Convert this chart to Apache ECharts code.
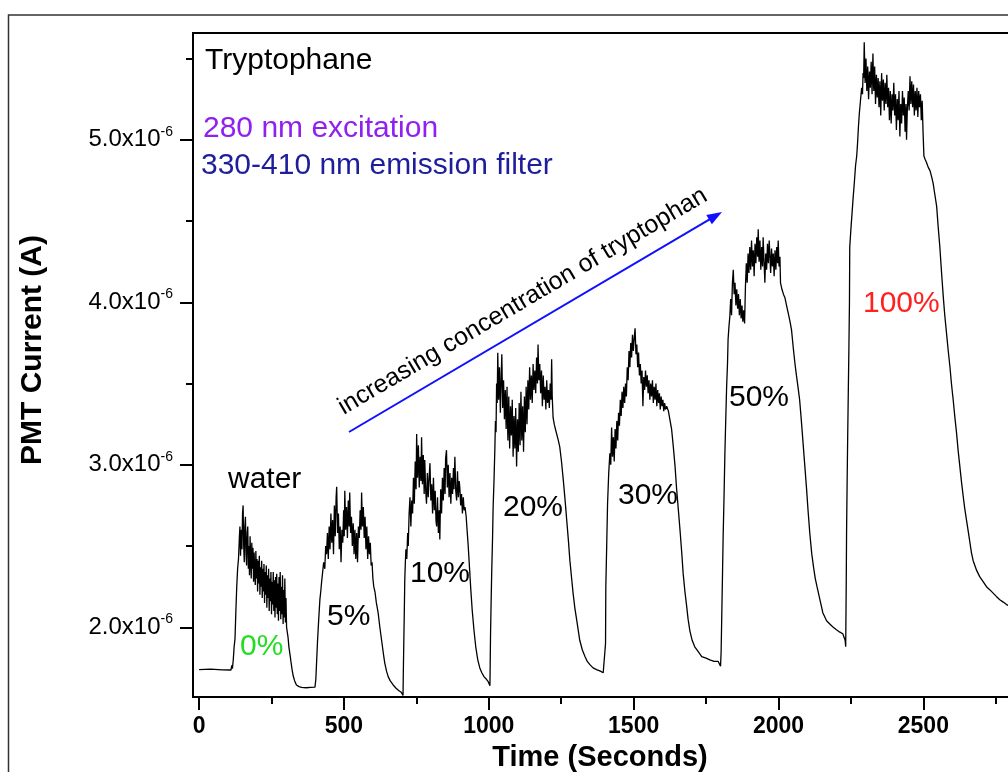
<!DOCTYPE html>
<html><head><meta charset="utf-8">
<script src="https://cdn.jsdelivr.net/npm/echarts@6/dist/echarts.min.js"></script>
<style>html,body{margin:0;padding:0;background:#fff}#c{width:1008px;height:772px}</style>
</head><body><div id="c"></div>
<script>
// ---- data: [time (s), PMT current (x1e-6 A)] ----
const segBaseline = [[0,1.74],[40,1.742],[80,1.738],[110,1.737],[112,1.73],[113,1.765],[115,1.745],[118,1.80],[121,1.88],[124,1.93],[127,2.10],[130,2.25],[133,2.36],[136,2.42],[139,2.55],[141,2.62]];
const segWater = [[143,2.44],[146,2.60],[148,2.48],[150,2.70],[152,2.75],[154,2.50],[156,2.40],[158,2.62],[160,2.68],[162,2.45],[164,2.38],[166,2.58],[168,2.62],[170,2.36],[172,2.50],[174,2.32],[176,2.56],[178,2.42],[180,2.30],[182,2.52],[184,2.36],[186,2.49],[188,2.28],[190,2.46],[192,2.33],[194,2.26],[196,2.47],[198,2.30],[200,2.42],[202,2.22],[204,2.41],[206,2.27],[208,2.44],[210,2.20],[212,2.37],[214,2.25],[216,2.41],[218,2.18],[220,2.36],[222,2.22],[224,2.39],[226,2.15],[228,2.34],[230,2.20],[232,2.38],[234,2.12],[236,2.32],[238,2.18],[240,2.36],[242,2.10],[244,2.30],[246,2.16],[248,2.34],[250,2.08],[252,2.28],[254,2.14],[256,2.34],[258,2.10],[260,2.29],[262,2.06],[264,2.31],[266,2.12],[268,2.33],[270,2.08],[272,2.27],[274,2.04],[276,2.31],[278,2.10],[280,2.34],[282,2.05],[284,2.25],[286,2.08],[288,2.32],[290,2.02],[292,2.23],[294,2.06],[296,2.30],[298,2.03],[300,2.18],[302,2.00],
 [304,2.0],[307,1.94],[310,1.88],[314,1.83],[317,1.79],[321,1.74],[325,1.70],[330,1.67],[336,1.645],[345,1.635],[354,1.63],[370,1.628],[385,1.63],[400,1.632]];
const seg5 = [[403,1.68],[406,1.80],[409,1.92],[413,2.05],[417,2.17],[420,2.22],[423,2.28],[426,2.33],[430,2.40],[434,2.36],[437,2.50],[440,2.45],
 [443,2.58],[446,2.42],[449,2.62],[452,2.48],[455,2.70],[458,2.52],[461,2.66],[464,2.45],[467,2.75],[470,2.56],[473,2.80],[475,2.865],[478,2.58],[481,2.70],[484,2.48],[487,2.62],[490,2.40],[493,2.60],[496,2.52],[499,2.72],[501,2.56],[503,2.84],[506,2.60],[509,2.74],[512,2.55],[515,2.78],[518,2.62],[520,2.83],[523,2.58],[526,2.68],[529,2.50],[532,2.64],[535,2.45],[538,2.60],[541,2.42],[544,2.58],[547,2.40],[550,2.62],[553,2.55],[556,2.72],[559,2.60],[561,2.83],[564,2.62],[567,2.74],[570,2.55],[573,2.68],[576,2.48],[579,2.62],[582,2.42],[585,2.56],[588,2.45],[591,2.52],[594,2.38],[597,2.40],[600,2.30],
 [603,2.25],[607,2.22],[612,2.15],[618,2.09],[624,2.00],[630,1.92],[636,1.84],[641,1.78],[647,1.73],[653,1.695],[660,1.67],[670,1.645],[680,1.625],[690,1.61],[698,1.60],[702,1.595],[704,1.58]];
const seg10 = [[705,1.72],[707,1.95],[708,2.05],[710,2.29],[712,2.40],[714,2.48],[717,2.42],[720,2.58],[722,2.50],[725,2.70],[728,2.80],
 [731,2.62],[734,2.78],[737,2.70],[740,2.92],[743,2.76],[746,3.02],[749,2.85],[751,3.19],[754,2.92],[757,3.12],[760,2.86],[763,3.05],[766,2.90],[768,3.17],[771,2.88],[774,3.06],[777,2.82],[779,3.03],[782,2.85],[785,2.76],[788,2.95],[791,2.80],[794,2.92],[797,3.01],[800,2.78],[803,2.88],[806,2.70],[809,2.92],[812,2.72],[815,2.84],[818,2.65],[820,2.62],[823,2.80],[826,2.58],[829,2.72],[831,2.54],[834,2.85],[837,2.70],[840,2.92],[843,2.78],[846,2.98],[849,2.82],[851,3.04],[854,3.09],[857,2.86],[860,3.00],[863,2.80],[866,2.95],[869,2.76],[872,2.92],[875,2.82],[878,2.98],[880,2.85],[883,3.05],[886,2.84],[889,2.78],[892,2.96],[895,2.80],[898,2.90],[900,2.86],[903,2.75],[906,2.82],[909,2.70],[912,2.80],[915,2.72],[918,2.74],
 [922,2.68],[925,2.60],[929,2.50],[933,2.38],[938,2.23],[943,2.10],[949,1.98],[955,1.88],[962,1.80],[969,1.75],[976,1.72],[984,1.695],[992,1.68],[998,1.665],[1002,1.655],[1004,1.64]];
const seg20 = [[1006,1.95],[1008,2.15],[1010,2.33],[1013,2.55],[1015,2.74],[1018,2.90],[1021,3.10],[1023,3.27],[1025,3.20],[1027,3.50],
 [1029,3.38],[1031,3.69],[1034,3.40],[1037,3.60],[1040,3.32],[1043,3.55],[1045,3.68],[1048,3.35],[1051,3.52],[1054,3.28],[1057,3.46],[1060,3.22],[1063,3.48],[1066,3.15],[1069,3.42],[1072,3.10],[1075,3.36],[1078,3.18],[1081,3.40],[1084,3.05],[1087,3.30],[1090,3.10],[1093,3.35],[1096,2.99],[1099,3.28],[1102,3.08],[1105,3.38],[1108,3.12],[1111,3.45],[1114,3.15],[1117,3.36],[1120,3.08],[1123,3.42],[1126,3.20],[1129,3.48],[1132,3.25],[1135,3.52],[1138,3.34],[1141,3.60],[1144,3.40],[1147,3.55],[1150,3.38],[1153,3.62],[1156,3.46],[1159,3.58],[1162,3.44],[1165,3.66],[1168,3.50],[1170,3.74],[1173,3.52],[1176,3.62],[1179,3.44],[1182,3.58],[1185,3.36],[1188,3.55],[1191,3.40],[1194,3.48],[1197,3.34],[1200,3.52],[1203,3.38],[1206,3.46],[1209,3.35],[1212,3.50],[1215,3.40],[1217,3.65],[1219,3.42],[1222,3.29],
 [1226,3.25],[1230,3.22],[1234,3.21],[1240,3.15],[1245,3.11],[1251,3.02],[1257,2.91],[1263,2.79],[1269,2.66],[1275,2.53],[1280,2.41],[1286,2.30],[1291,2.21],[1297,2.12],[1303,2.05],[1309,1.98],[1314,1.92],[1323,1.86],[1332,1.82],[1340,1.79],[1349,1.77],[1360,1.75],[1372,1.74],[1385,1.73],[1395,1.72],[1401,1.71]];
const seg30 = [[1403,1.90],[1404,2.25],[1407,2.50],[1410,2.76],[1414,2.95],[1418,3.07],[1421,3.00],[1424,3.23],[1427,3.05],
 [1430,3.17],[1433,3.02],[1436,3.22],[1439,3.10],[1442,3.27],[1445,3.15],[1448,3.32],[1451,3.24],[1454,3.40],[1457,3.30],[1460,3.45],[1463,3.35],[1466,3.48],[1469,3.38],[1472,3.50],[1475,3.42],[1478,3.60],[1481,3.52],[1484,3.70],[1487,3.60],[1490,3.75],[1493,3.66],[1496,3.80],[1499,3.70],[1502,3.78],[1505,3.84],[1508,3.68],[1511,3.74],[1514,3.60],[1517,3.69],[1520,3.55],[1523,3.62],[1526,3.50],[1529,3.58],[1532,3.36],[1535,3.54],[1538,3.46],[1541,3.58],[1544,3.48],[1547,3.55],[1550,3.44],[1553,3.52],[1556,3.40],[1559,3.50],[1562,3.42],[1565,3.52],[1568,3.38],[1571,3.48],[1574,3.40],[1577,3.50],[1580,3.36],[1583,3.46],[1586,3.38],[1589,3.44],[1592,3.34],[1595,3.42],[1598,3.36],[1601,3.40],[1604,3.33],[1607,3.38],[1610,3.34],[1614,3.36],
 [1620,3.33],[1625,3.32],[1631,3.22],[1637,3.11],[1643,2.99],[1648,2.86],[1654,2.73],[1660,2.60],[1666,2.46],[1671,2.33],[1677,2.22],[1683,2.13],[1688,2.05],[1694,1.98],[1702,1.92],[1711,1.88],[1723,1.85],[1735,1.82],[1750,1.81],[1763,1.80],[1778,1.79],[1792,1.79],[1798,1.78],[1800,1.76]];
const seg50 = [[1802,1.85],[1804,2.05],[1807,2.35],[1809,2.56],[1812,2.80],[1815,3.07],[1818,3.28],[1821,3.48],[1824,3.62],[1826,3.77],[1829,3.85],[1832,3.91],
 [1835,4.02],[1838,3.92],[1841,4.12],[1844,4.20],[1847,4.05],[1850,4.12],[1853,3.98],[1856,4.08],[1859,3.96],[1862,4.05],[1865,3.92],[1868,4.02],[1871,3.90],[1874,3.98],[1877,3.88],[1880,3.95],[1883,3.87],[1886,4.10],[1889,4.24],[1892,4.12],[1895,4.30],[1898,4.18],[1901,4.34],[1904,4.20],[1907,4.38],[1910,4.22],[1913,4.32],[1916,4.16],[1919,4.36],[1922,4.24],[1925,4.40],[1928,4.28],[1930,4.45],[1933,4.25],[1936,4.38],[1939,4.20],[1942,4.34],[1945,4.22],[1947,4.40],[1950,4.26],[1953,4.12],[1956,4.30],[1959,4.20],[1962,4.36],[1965,4.24],[1968,4.38],[1970,4.30],[1973,4.18],[1976,4.33],[1979,4.22],[1982,4.30],[1985,4.16],[1988,4.32],[1991,4.20],[1994,4.34],[1997,4.24],[1999,4.38],[2002,4.22],[2005,4.28],[2007,4.12],
 [2012,4.08],[2017,4.05],[2022,4.03],[2028,3.98],[2034,3.93],[2040,3.88],[2045,3.83],[2051,3.72],[2057,3.62],[2062,3.55],[2068,3.47],[2073,3.40],[2079,3.27],[2085,3.13],[2091,2.99],[2097,2.85],[2102,2.72],[2108,2.58],[2115,2.45],[2121,2.37],[2127,2.30],[2133,2.25],[2143,2.17],[2153,2.09],[2166,2.04],[2177,2.02],[2189,2.00],[2200,1.985],[2212,1.97],[2222,1.96],[2227,1.95],[2230,1.92],[2232,1.88]];
const seg100 = [[2234,2.30],[2235,2.58],[2237,2.90],[2239,3.19],[2241,3.45],[2243,3.71],[2245,4.0],[2246,4.34],[2250,4.45],[2254,4.55],[2258,4.65],[2262,4.74],[2266,4.84],[2270,4.90],[2273,4.98],[2276,5.08],[2279,5.16],[2282,5.22],[2285,5.28],[2287,5.32],[2290,5.28],[2292,5.41],[2294,5.38],[2296,5.60],
 [2299,5.35],[2302,5.50],[2305,5.30],[2308,5.45],[2311,5.25],[2314,5.42],[2317,5.32],[2320,5.48],[2323,5.28],[2326,5.53],[2329,5.30],[2332,5.45],[2335,5.22],[2338,5.40],[2341,5.26],[2344,5.38],[2347,5.20],[2350,5.36],[2353,5.15],[2356,5.41],[2359,5.24],[2362,5.37],[2365,5.18],[2368,5.35],[2371,5.22],[2374,5.40],[2377,5.20],[2380,5.32],[2383,5.12],[2386,5.30],[2389,5.10],[2392,5.28],[2395,5.18],[2398,5.35],[2401,5.15],[2404,5.28],[2407,5.06],[2410,5.25],[2413,5.12],[2416,5.30],[2419,5.02],[2422,5.22],[2425,5.10],[2428,5.30],[2431,5.15],[2434,5.26],[2437,5.05],[2440,5.22],[2442,5.00],[2445,5.20],[2448,5.30],[2451,5.18],[2454,5.39],[2457,5.22],[2460,5.36],[2463,5.20],[2466,5.34],[2469,5.15],[2472,5.30],[2475,5.18],[2478,5.32],[2481,5.14],[2484,5.30],[2487,5.20],[2490,5.28],[2493,5.12],[2496,5.24],[2499,5.05],[2502,4.90],
 [2506,4.88],[2511,4.86],[2517,4.83],[2523,4.81],[2529,4.77],[2534,4.73],[2540,4.66],[2546,4.59],[2551,4.47],[2557,4.34],[2563,4.18],[2569,4.03],[2574,3.92],[2580,3.81],[2586,3.70],[2592,3.60],[2597,3.50],[2603,3.40],[2609,3.29],[2615,3.19],[2620,3.09],[2626,2.99],[2632,2.89],[2638,2.80],[2643,2.73],[2649,2.66],[2655,2.59],[2661,2.52],[2666,2.46],[2672,2.41],[2684,2.35],[2695,2.31],[2707,2.28],[2718,2.25],[2730,2.23],[2741,2.21],[2752,2.19],[2764,2.17],[2776,2.155],[2787,2.14],[2800,2.13]];

const xRange = [-21, 3000];       // visible data range of the plot box
const yRange = [1.571, 5.657];    // in units of 1e-6 A
const xTickRange = [0, 3000];
const yTickRange = [2, 6];
const xTitle = 'Time (Seconds)';
const yTitle = 'PMT Current (A)';
const headerTexts = ['Tryptophane', '280 nm excitation', '330-410 nm emission filter'];
const pulseLabels = ['water', '0%', '5%', '10%', '20%', '30%', '50%', '100%'];
const arrowText = 'increasing concentration of tryptophan';

const trace = [].concat(segBaseline, segWater, seg5, seg10, seg20, seg30, seg50, seg100);

// ---- layout ----
const FONT = '"Liberation Sans", Arial, Helvetica, sans-serif';
const W = 1008, H = 772;
const plotL = 193, plotT = 33, plotB = 697;
const pxPerSec = 0.2897;
const pxPerUnit = (plotB - plotT) / (yRange[1] - yRange[0]);
const plotR = plotL + (xRange[1] - xRange[0]) * pxPerSec;
const tickL = plotL + (xTickRange[0] - xRange[0]) * pxPerSec;
const yTopTick = plotB - (yTickRange[1] - yRange[0]) * pxPerUnit;
const yBotTick = plotB - (yTickRange[0] - yRange[0]) * pxPerUnit;

const chart = echarts.init(document.getElementById('c'), null, {renderer: 'canvas', devicePixelRatio: 1});

function txt(t, x, y, size, color, opts) {
  return Object.assign({
    type: 'text', x: x, y: y, silent: true,
    style: {text: t, font: (opts && opts.bold ? 'bold ' : '') + size + 'px ' + FONT, fill: color,
            align: (opts && opts.align) || 'left', verticalAlign: 'middle'}
  }, opts && opts.rotation != null ? {rotation: opts.rotation} : {});
}

// arrow geometry
const aS = [349, 432], aE = [722, 212];
const dx = aE[0] - aS[0], dy = aE[1] - aS[1], len = Math.hypot(dx, dy);
const ux = dx / len, uy = dy / len, nx = -uy, ny = ux;
const hl = 15, hw = 5.5;
const head = [[aE[0], aE[1]],
  [aE[0] - hl * ux + hw * nx, aE[1] - hl * uy + hw * ny],
  [aE[0] - hl * ux - hw * nx, aE[1] - hl * uy - hw * ny]];
const angle = Math.atan2(-dy, dx);

const gridBase = {outerBoundsMode: 'none', containLabel: false};
const option = {
  animation: false,
  backgroundColor: '#fff',
  grid: [
    Object.assign({left: plotL, top: plotT, right: W - plotR, bottom: H - plotB, show: true, borderColor: '#000', borderWidth: 2, backgroundColor: 'transparent'}, gridBase),
    Object.assign({left: tickL, top: plotT, right: W - plotR, bottom: H - plotB}, gridBase),
    Object.assign({left: plotL, top: yTopTick, right: W - plotR, bottom: H - yBotTick}, gridBase)
  ],
  xAxis: [
    {gridIndex: 0, type: 'value', min: xRange[0], max: xRange[1], show: false},
    {gridIndex: 1, type: 'value', min: xTickRange[0], max: xTickRange[1], interval: 500,
     axisLine: {show: false}, splitLine: {show: false},
     axisTick: {show: true, inside: false, length: 13, lineStyle: {color: '#000', width: 2}},
     minorTick: {show: true, splitNumber: 2, length: 7, lineStyle: {color: '#000', width: 2}},
     axisLabel: {show: true, margin: 18, color: '#000', fontSize: 23, fontWeight: 'bold', fontFamily: FONT, showMaxLabel: false,
       formatter: function (v) { return String(v); }}},
    {gridIndex: 2, type: 'value', min: 0, max: 1, show: false}
  ],
  yAxis: [
    {gridIndex: 0, type: 'value', min: yRange[0], max: yRange[1], show: false},
    {gridIndex: 1, type: 'value', min: 0, max: 1, show: false},
    {gridIndex: 2, type: 'value', min: yTickRange[0], max: yTickRange[1], interval: 1,
     axisLine: {show: false}, splitLine: {show: false},
     axisTick: {show: true, inside: false, length: 13, lineStyle: {color: '#000', width: 2}},
     minorTick: {show: true, splitNumber: 2, length: 7, lineStyle: {color: '#000', width: 2}},
     axisLabel: {show: true, margin: 20, showMaxLabel: false,
       formatter: function (v) { return '{a|' + v.toFixed(1) + 'x10}{b|-6}'; },
       rich: {
         a: {fontSize: 24, fontFamily: FONT, color: '#000', lineHeight: 30, verticalAlign: 'middle'},
         b: {fontSize: 14, fontFamily: FONT, color: '#000', lineHeight: 14, verticalAlign: 'top'}
       }}}
  ],
  series: [{
    type: 'line', xAxisIndex: 0, yAxisIndex: 0, data: trace,
    showSymbol: false, symbol: 'none', clip: true,
    lineStyle: {color: '#000', width: 1.3}, z: 5
  }],
  graphic: {elements: [
    {type: 'rect', silent: true, shape: {x: 8.5, y: 15, width: 1200, height: 1000}, style: {fill: 'none', stroke: '#333', lineWidth: 1.5}, z: 0},
    txt(headerTexts[0], 205, 61, 30, '#000'),
    txt(headerTexts[1], 203, 129, 30, '#9020F0'),
    txt(headerTexts[2], 201, 166, 30, '#1E1E9C'),
    txt(pulseLabels[0], 228, 480, 30, '#000'),
    txt(pulseLabels[1], 240, 647, 30, '#22DD22'),
    txt(pulseLabels[2], 327, 617, 30, '#000'),
    txt(pulseLabels[3], 410, 574, 30, '#000'),
    txt(pulseLabels[4], 503, 508, 30, '#000'),
    txt(pulseLabels[5], 618, 496, 30, '#000'),
    txt(pulseLabels[6], 729, 398, 30, '#000'),
    txt(pulseLabels[7], 863, 304, 30, '#FF2020'),
    txt(arrowText, 522.7, 301.4, 25, '#000', {align: 'center', rotation: angle}),
    {type: 'line', silent: true, shape: {x1: aS[0], y1: aS[1], x2: aE[0] - 10 * ux, y2: aE[1] - 10 * uy}, style: {stroke: '#1010FF', lineWidth: 2}},
    {type: 'polygon', silent: true, shape: {points: head}, style: {fill: '#1010FF'}},
    txt(xTitle, 600, 758, 29, '#000', {bold: true, align: 'center'}),
    txt(yTitle, 33, 350, 30, '#000', {bold: true, align: 'center', rotation: Math.PI / 2})
  ]}
};
chart.setOption(option);
</script>
</body></html>
